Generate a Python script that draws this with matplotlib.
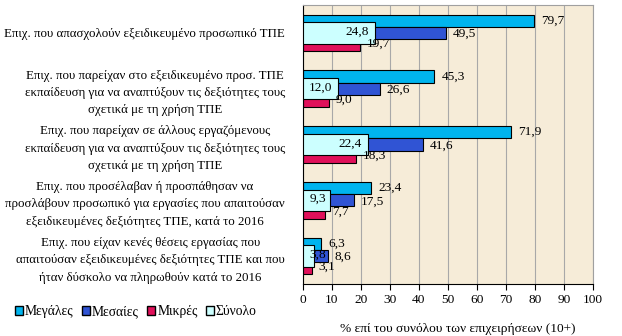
import numpy as np
import matplotlib.pyplot as plt
from matplotlib.patches import Patch

plt.rcParams['font.family'] = ['Liberation Serif', 'DejaVu Serif']

categories = [
    'Επιχ. που απασχολούν εξειδικευμένο προσωπικό ΤΠΕ',
    'Επιχ. που παρείχαν στο εξειδικευμένο προσ. ΤΠΕ\nεκπαίδευση για να αναπτύξουν τις δεξιότητες τους\nσχετικά με τη χρήση ΤΠΕ',
    'Επιχ. που παρείχαν σε άλλους εργαζόμενους\nεκπαίδευση για να αναπτύξουν τις δεξιότητες τους\nσχετικά με τη χρήση ΤΠΕ',
    'Επιχ. που προσέλαβαν ή προσπάθησαν να\nπροσλάβουν προσωπικό για εργασίες που απαιτούσαν\nεξειδικευμένες δεξιότητες ΤΠΕ, κατά το 2016',
    'Επιχ. που είχαν κενές θέσεις εργασίας που\nαπαιτούσαν εξειδικευμένες δεξιότητες ΤΠΕ και που\nήταν δύσκολο να πληρωθούν κατά το 2016',
]
megales = [79.7, 45.3, 71.9, 23.4, 6.3]
mesaies = [49.5, 26.6, 41.6, 17.5, 8.6]
mikres = [19.7, 9.0, 18.3, 7.7, 3.1]
synolo = [24.8, 12.0, 22.4, 9.3, 3.8]
xticks = list(range(0, 101, 10))

c_meg = '#00b4ee'
c_mes = '#3054d4'
c_mik = '#e0105a'
c_syn = '#ccffff'

def fmt(v):
    return f'{v:.1f}'.replace('.', ',')

fig = plt.figure(figsize=(6.22, 3.36), dpi=100)
ax = fig.add_axes([0.487, 0.155, 0.466, 0.830])
ax.set_facecolor('#f6ecd8')

y = np.arange(len(categories))
h = 0.22
hs = 0.38
ax.barh(y - h, megales, height=h, color=c_meg, edgecolor='black', linewidth=0.8, zorder=2)
ax.barh(y, mesaies, height=h, color=c_mes, edgecolor='black', linewidth=0.8, zorder=2)
ax.barh(y + h, mikres, height=h, color=c_mik, edgecolor='black', linewidth=0.8, zorder=2)
ax.barh(y, synolo, height=hs, color=c_syn, edgecolor='black', linewidth=0.8, zorder=3)

fs = 9.6
for i in range(len(categories)):
    ax.text(megales[i] + 2.5, y[i] - h, fmt(megales[i]), va='center', fontsize=fs, zorder=4)
    ax.text(mesaies[i] + 2.3, y[i] + 0.02, fmt(mesaies[i]), va='center', fontsize=fs, zorder=4)
    ax.text(mikres[i] + 2.3, y[i] + 0.2, fmt(mikres[i]), va='center', fontsize=fs, zorder=4)
    ax.text(max(synolo[i] - 2.0, 8.0), y[i] - 0.02, fmt(synolo[i]), va='center', ha='right',
            fontsize=fs, zorder=4)

ax.set_xlim(0, 100)
ax.set_ylim(len(categories) - 0.5, -0.5)
ax.set_xticks(xticks)
ax.tick_params(axis='x', labelsize=fs, direction='out', length=4)
ax.set_yticks(y)
ax.set_yticklabels(categories, fontsize=9.3, multialignment='center', linespacing=1.6)
ax.tick_params(axis='y', length=0, pad=13)
ax.grid(axis='x', color='#a8a8a8', linewidth=0.8, zorder=1)
ax.set_axisbelow(True)
ax.spines['top'].set_color('#a0a0a0')
ax.spines['right'].set_color('#a0a0a0')
ax.spines['left'].set_color('black')
ax.spines['bottom'].set_color('black')
ax.set_xlabel('% επί του συνόλου των επιχειρήσεων (10+)', fontsize=fs)
ax.xaxis.set_label_coords(0.535, -0.14)

handles = [
    Patch(facecolor=c_meg, edgecolor='black', label='Μεγάλες'),
    Patch(facecolor=c_mes, edgecolor='black', label='Μεσαίες'),
    Patch(facecolor=c_mik, edgecolor='black', label='Μικρές'),
    Patch(facecolor=c_syn, edgecolor='black', label='Σύνολο'),
]
fig.legend(handles=handles, loc='center left', bbox_to_anchor=(0.015, 0.072), ncol=4,
           frameon=False, fontsize=9.8, handlelength=0.6, handleheight=0.6,
           handletextpad=0.15, columnspacing=0.6, borderaxespad=0)

plt.savefig('out.png', dpi=100)
